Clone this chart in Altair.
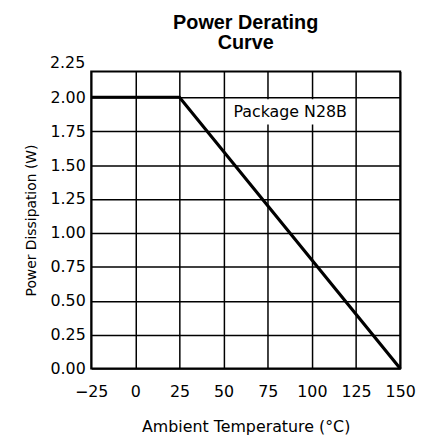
import altair as alt
import pandas as pd

temps = [-25, 25, 150]
power = [2.0, 2.0, 0.0]

label_text = ["Package N28B"]
label_x = [87.7]
label_y = [1.89]
box_x = [52.5]
box_x2 = [123.5]
box_y = [1.80]
box_y2 = [1.985]

x_ticks = [-25, 0, 25, 50, 75, 100, 125, 150]
y_ticks = [0, 0.25, 0.5, 0.75, 1.0, 1.25, 1.5, 1.75, 2.0]
top_tick = [2.25]
top_tick_text = ["2.25"]
y_top = 2.19

line_df = pd.DataFrame({"t": temps, "p": power})
label_df = pd.DataFrame({"t": label_x, "p": label_y, "txt": label_text,
                         "bx": box_x, "bx2": box_x2, "by": box_y, "by2": box_y2})
top_df = pd.DataFrame({"t": [x_ticks[0]], "p": top_tick, "txt": top_tick_text})

FONT = "DejaVu Sans"

xscale = alt.Scale(domain=[-25, 150], nice=False, zero=False)
yscale = alt.Scale(domain=[0, y_top], nice=False)

xaxis = alt.Axis(values=x_ticks, title="Ambient Temperature (°C)", format="d",
                 grid=True, gridColor="black", gridWidth=1.5, gridOpacity=1,
                 ticks=False, domain=False, labelFont=FONT, labelFontSize=16,
                 labelColor="black", labelPadding=15, titleFont=FONT,
                 titleFontSize=16, titleFontWeight="normal", titleColor="black",
                 titlePadding=20, labelFlush=False, labelOverlap=False)
yaxis = alt.Axis(values=y_ticks, title="Power Dissipation (W)", format=".2f",
                 grid=True, gridColor="black", gridWidth=1.5, gridOpacity=1,
                 ticks=False, domain=False, labelFont=FONT, labelFontSize=16,
                 labelColor="black", labelPadding=6, titleFont=FONT,
                 titleFontSize=14, titleFontWeight="normal", titleColor="black",
                 titlePadding=12, labelFlush=False, labelOverlap=False)

base_line = alt.Chart(line_df).mark_line(color="black", strokeWidth=3.2, clip=False).encode(
    x=alt.X("t:Q", scale=xscale, axis=xaxis),
    y=alt.Y("p:Q", scale=yscale, axis=yaxis),
)

box = alt.Chart(label_df).mark_rect(color="white").encode(
    x=alt.X("bx:Q", scale=xscale, axis=xaxis),
    x2="bx2:Q",
    y=alt.Y("by:Q", scale=yscale, axis=yaxis),
    y2="by2:Q",
)

txt = alt.Chart(label_df).mark_text(font=FONT, fontSize=16, color="black").encode(
    x=alt.X("t:Q", scale=xscale, axis=xaxis),
    y=alt.Y("p:Q", scale=yscale, axis=yaxis),
    text="txt:N",
)

top_lbl = alt.Chart(top_df).mark_text(font=FONT, fontSize=16, color="black",
                                      align="right", baseline="middle", dx=-6,
                                      clip=False).encode(
    x=alt.X("t:Q", scale=xscale, axis=xaxis),
    y=alt.Y("p:Q", scale=yscale, axis=yaxis),
    text="txt:N",
)

chart = alt.layer(box, txt, base_line, top_lbl).properties(
    width=312, height=300,
    padding={"left": 16, "top": 2, "right": 5, "bottom": 5},
    title=alt.TitleParams(["Power Derating", "Curve"], font="Liberation Sans",
                          fontSize=20, fontWeight="bold", color="black",
                          lineHeight=21, offset=2, anchor="middle"),
    background="white",
).configure_view(stroke="black", strokeWidth=2)

chart.save("out.html", embed_options={"renderer": "svg", "actions": False})
